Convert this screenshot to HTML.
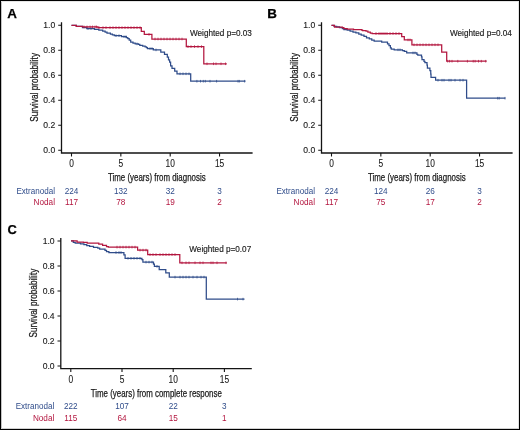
<!DOCTYPE html><html><head><meta charset="utf-8"><style>html,body{margin:0;padding:0;background:#fff;}svg{display:block;will-change:transform;}text{font-family:"Liberation Sans",sans-serif;}</style></head><body>
<svg width="520" height="430" viewBox="0 0 520 430">
<rect x="0" y="0" width="520" height="430" fill="#fff"/>
<text x="7.3" y="17.7" font-weight="bold" font-size="13.4" fill="#000" stroke="#000" stroke-width="0.25">A</text>
<path d="M61.5,22.3V153H252.6" fill="none" stroke="#141414" stroke-width="1.3"/>
<path d="M58.2,150.3H61.5M58.2,125.3H61.5M58.2,100.3H61.5M58.2,75.3H61.5M58.2,50.3H61.5M58.2,25.3H61.5M71.5,153V156.4M120.85,153V156.4M170.2,153V156.4M219.55,153V156.4" fill="none" stroke="#141414" stroke-width="1.1"/>
<text x="55.3" y="152.8" text-anchor="end" font-size="8.6" fill="#1a1a1a" stroke="#1a1a1a" stroke-width="0.12">0.0</text>
<text x="55.3" y="127.8" text-anchor="end" font-size="8.6" fill="#1a1a1a" stroke="#1a1a1a" stroke-width="0.12">0.2</text>
<text x="55.3" y="102.8" text-anchor="end" font-size="8.6" fill="#1a1a1a" stroke="#1a1a1a" stroke-width="0.12">0.4</text>
<text x="55.3" y="77.8" text-anchor="end" font-size="8.6" fill="#1a1a1a" stroke="#1a1a1a" stroke-width="0.12">0.6</text>
<text x="55.3" y="52.8" text-anchor="end" font-size="8.6" fill="#1a1a1a" stroke="#1a1a1a" stroke-width="0.12">0.8</text>
<text x="55.3" y="27.8" text-anchor="end" font-size="8.6" fill="#1a1a1a" stroke="#1a1a1a" stroke-width="0.12">1.0</text>
<text transform="translate(71.5,166.9) scale(0.84,1)" text-anchor="middle" font-size="10" fill="#1a1a1a" stroke="#1a1a1a" stroke-width="0.1">0</text>
<text transform="translate(120.85,166.9) scale(0.84,1)" text-anchor="middle" font-size="10" fill="#1a1a1a" stroke="#1a1a1a" stroke-width="0.1">5</text>
<text transform="translate(170.2,166.9) scale(0.84,1)" text-anchor="middle" font-size="10" fill="#1a1a1a" stroke="#1a1a1a" stroke-width="0.1">10</text>
<text transform="translate(219.55,166.9) scale(0.84,1)" text-anchor="middle" font-size="10" fill="#1a1a1a" stroke="#1a1a1a" stroke-width="0.1">15</text>
<text x="108" y="180.9" font-size="10.3" textLength="97.6" lengthAdjust="spacingAndGlyphs" fill="#1a1a1a" stroke="#1a1a1a" stroke-width="0.25">Time (years) from diagnosis</text>
<text transform="translate(37.6,121.8) rotate(-90)" x="0" y="0" font-size="10.3" textLength="68.8" lengthAdjust="spacingAndGlyphs" fill="#1a1a1a" stroke="#1a1a1a" stroke-width="0.25">Survival probability</text>
<text x="190" y="35.8" font-size="8.5" textLength="61.9" lengthAdjust="spacingAndGlyphs" fill="#1a1a1a" stroke="#1a1a1a" stroke-width="0.15">Weighted p=0.03</text>
<text x="55" y="193.5" text-anchor="end" font-size="8.2" textLength="38.6" lengthAdjust="spacingAndGlyphs" fill="#2f4c8a">Extranodal</text>
<text x="55" y="205" text-anchor="end" font-size="8.2" fill="#b3163f">Nodal</text>
<text x="71.5" y="193.5" text-anchor="middle" font-size="8.2" fill="#2f4c8a">224</text>
<text x="120.85" y="193.5" text-anchor="middle" font-size="8.2" fill="#2f4c8a">132</text>
<text x="170.2" y="193.5" text-anchor="middle" font-size="8.2" fill="#2f4c8a">32</text>
<text x="219.55" y="193.5" text-anchor="middle" font-size="8.2" fill="#2f4c8a">3</text>
<text x="71.5" y="205" text-anchor="middle" font-size="8.2" fill="#b3163f">117</text>
<text x="120.85" y="205" text-anchor="middle" font-size="8.2" fill="#b3163f">78</text>
<text x="170.2" y="205" text-anchor="middle" font-size="8.2" fill="#b3163f">19</text>
<text x="219.55" y="205" text-anchor="middle" font-size="8.2" fill="#b3163f">2</text>
<path d="M71.5,25.3H76.3V26.4H82.5V27.7H86.8V28.5H94.5V29.4H98.8V30.1H102.7V31H105.1V32H107V33H110.4V34H112.4V34.9H114.3V35.7H121.5V36.7H126.3V37.5H127.8V38.6H129.2V40H130.7V42.2H133V43.2H135.2V43.9H138.4V44.3H139.8V45.3H142.7V46.1H145.1V46.75H146.5V47.7H147.5V48.5H153.3V49.9H160.8V52H164.5V54.3H167.3V57H168.5V59.9H169.6V62.2H170.6V65.9H172V68.3H174.7V71H177V73.8H190.7V81.2H245.5" fill="none" stroke="#2f4c8a" stroke-width="1.25" stroke-linejoin="miter"/>
<path d="M88,27.2v2.6M91,27.2v2.6M116,34.4v2.6M119,34.4v2.6M124,35.4v2.6M126,35.4v2.6M137,42.6v2.6M150,47.2v2.6M152,47.2v2.6M156,48.6v2.6M180,72.5v2.6M183,72.5v2.6M186,72.5v2.6M189,72.5v2.6M196.9,79.9v2.6M200.5,79.9v2.6M203.3,79.9v2.6M205.3,79.9v2.6M210,79.9v2.6M216.6,79.9v2.6M238,79.9v2.6M239.3,79.9v2.6M244.6,79.9v2.6" fill="none" stroke="#2f4c8a" stroke-width="0.75"/>
<path d="M71.5,25.3H76.3V26.4H82.5V26.9H97.9V27.6H141.3V31.3H144.3V34.4H151.9V39H186.3V46.6H203.8V63.8H226.8" fill="none" stroke="#b3163f" stroke-width="1.25" stroke-linejoin="miter"/>
<path d="M84,25.6v2.6M87,25.6v2.6M90,25.6v2.6M92.5,25.6v2.6M95,25.6v2.6M96.5,25.6v2.6M99,26.3v2.6M103,26.3v2.6M106,26.3v2.6M110,26.3v2.6M113,26.3v2.6M116,26.3v2.6M119,26.3v2.6M122,26.3v2.6M125,26.3v2.6M128,26.3v2.6M131,26.3v2.6M134,26.3v2.6M137,26.3v2.6M140,26.3v2.6M149,33.1v2.6M155,37.7v2.6M158,37.7v2.6M161,37.7v2.6M164,37.7v2.6M167,37.7v2.6M170,37.7v2.6M173,37.7v2.6M176,37.7v2.6M179,37.7v2.6M182,37.7v2.6M188,45.3v2.6M191,45.3v2.6M194.5,45.3v2.6M198,45.3v2.6M201.5,45.3v2.6M207,62.5v2.6M213.5,62.5v2.6M216,62.5v2.6M221,62.5v2.6M225.5,62.5v2.6" fill="none" stroke="#b3163f" stroke-width="0.75"/>
<text x="267.3" y="17.7" font-weight="bold" font-size="13.4" fill="#000" stroke="#000" stroke-width="0.25">B</text>
<path d="M321.5,22.3V153H512.6" fill="none" stroke="#141414" stroke-width="1.3"/>
<path d="M318.2,150.3H321.5M318.2,125.3H321.5M318.2,100.3H321.5M318.2,75.3H321.5M318.2,50.3H321.5M318.2,25.3H321.5M331.5,153V156.4M380.85,153V156.4M430.2,153V156.4M479.55,153V156.4" fill="none" stroke="#141414" stroke-width="1.1"/>
<text x="315.3" y="152.8" text-anchor="end" font-size="8.6" fill="#1a1a1a" stroke="#1a1a1a" stroke-width="0.12">0.0</text>
<text x="315.3" y="127.8" text-anchor="end" font-size="8.6" fill="#1a1a1a" stroke="#1a1a1a" stroke-width="0.12">0.2</text>
<text x="315.3" y="102.8" text-anchor="end" font-size="8.6" fill="#1a1a1a" stroke="#1a1a1a" stroke-width="0.12">0.4</text>
<text x="315.3" y="77.8" text-anchor="end" font-size="8.6" fill="#1a1a1a" stroke="#1a1a1a" stroke-width="0.12">0.6</text>
<text x="315.3" y="52.8" text-anchor="end" font-size="8.6" fill="#1a1a1a" stroke="#1a1a1a" stroke-width="0.12">0.8</text>
<text x="315.3" y="27.8" text-anchor="end" font-size="8.6" fill="#1a1a1a" stroke="#1a1a1a" stroke-width="0.12">1.0</text>
<text transform="translate(331.5,166.9) scale(0.84,1)" text-anchor="middle" font-size="10" fill="#1a1a1a" stroke="#1a1a1a" stroke-width="0.1">0</text>
<text transform="translate(380.85,166.9) scale(0.84,1)" text-anchor="middle" font-size="10" fill="#1a1a1a" stroke="#1a1a1a" stroke-width="0.1">5</text>
<text transform="translate(430.2,166.9) scale(0.84,1)" text-anchor="middle" font-size="10" fill="#1a1a1a" stroke="#1a1a1a" stroke-width="0.1">10</text>
<text transform="translate(479.55,166.9) scale(0.84,1)" text-anchor="middle" font-size="10" fill="#1a1a1a" stroke="#1a1a1a" stroke-width="0.1">15</text>
<text x="368" y="180.9" font-size="10.3" textLength="97.6" lengthAdjust="spacingAndGlyphs" fill="#1a1a1a" stroke="#1a1a1a" stroke-width="0.25">Time (years) from diagnosis</text>
<text transform="translate(297.6,121.8) rotate(-90)" x="0" y="0" font-size="10.3" textLength="68.8" lengthAdjust="spacingAndGlyphs" fill="#1a1a1a" stroke="#1a1a1a" stroke-width="0.25">Survival probability</text>
<text x="450" y="35.8" font-size="8.5" textLength="61.9" lengthAdjust="spacingAndGlyphs" fill="#1a1a1a" stroke="#1a1a1a" stroke-width="0.15">Weighted p=0.04</text>
<text x="315" y="193.5" text-anchor="end" font-size="8.2" textLength="38.6" lengthAdjust="spacingAndGlyphs" fill="#2f4c8a">Extranodal</text>
<text x="315" y="205" text-anchor="end" font-size="8.2" fill="#b3163f">Nodal</text>
<text x="331.5" y="193.5" text-anchor="middle" font-size="8.2" fill="#2f4c8a">224</text>
<text x="380.85" y="193.5" text-anchor="middle" font-size="8.2" fill="#2f4c8a">124</text>
<text x="430.2" y="193.5" text-anchor="middle" font-size="8.2" fill="#2f4c8a">26</text>
<text x="479.55" y="193.5" text-anchor="middle" font-size="8.2" fill="#2f4c8a">3</text>
<text x="331.5" y="205" text-anchor="middle" font-size="8.2" fill="#b3163f">117</text>
<text x="380.85" y="205" text-anchor="middle" font-size="8.2" fill="#b3163f">75</text>
<text x="430.2" y="205" text-anchor="middle" font-size="8.2" fill="#b3163f">17</text>
<text x="479.55" y="205" text-anchor="middle" font-size="8.2" fill="#b3163f">2</text>
<path d="M331.5,25.3H334V26.25H336.7V26.9H339.5V27.7H342.4V28.5H343.9V29.6H347.2V30.1H350.1V31.1H353V32H355.9V32.8H358.8V34.2H361.2V35.2H364V36.3H366.5V37.8H369.3V38.75H371.75V40H374.15V41H381.7V42.1H387.5V43.75H389V45.7H390.4V47.9H391.3V49H394.2V49.8H402.4V50.5H404.3V51.4H406.7V52.9H416.9V54.3H417.8V55.1H421.5V56.8H422V59.7H424V61.4H424.9V62.7H427V65.2H427.4V68.1H429.9V70.6H430.75V74H431V77.3H435.6V80.2H466.6V98.2H505.3" fill="none" stroke="#2f4c8a" stroke-width="1.25" stroke-linejoin="miter"/>
<path d="M398,48.5v2.6M400,48.5v2.6M413,51.6v2.6M415,51.6v2.6M438,78.9v2.6M442,78.9v2.6M444,78.9v2.6M449,78.9v2.6M451,78.9v2.6M455,78.9v2.6M460,78.9v2.6M463,78.9v2.6M497.7,96.9v2.6M499.2,96.9v2.6M505,96.9v2.6" fill="none" stroke="#2f4c8a" stroke-width="0.75"/>
<path d="M331.5,25.3H334.5V27.2H342.4V27.7H343.9V28.7H347.2V29.1H353.5V29.6H361.7V30.1H362.6V30.6H366V31.1H367.9V32H370.3V33H372.2V33.5H401.7V36.5H404.3V39.9H411.9V44.8H441.7V52.1H446.7V61.2H486.7" fill="none" stroke="#b3163f" stroke-width="1.25" stroke-linejoin="miter"/>
<path d="M376,32.2v2.6M379,32.2v2.6M381,32.2v2.6M383,32.2v2.6M385,32.2v2.6M387,32.2v2.6M390,32.2v2.6M393,32.2v2.6M396,32.2v2.6M399,32.2v2.6M408,38.6v2.6M410,38.6v2.6M414,43.5v2.6M417,43.5v2.6M420,43.5v2.6M423,43.5v2.6M426,43.5v2.6M429,43.5v2.6M432,43.5v2.6M435,43.5v2.6M438,43.5v2.6M447.7,59.9v2.6M449.6,59.9v2.6M452,59.9v2.6M457.8,59.9v2.6M467.4,59.9v2.6M473.2,59.9v2.6M475.1,59.9v2.6M478.5,59.9v2.6M481.3,59.9v2.6M485.7,59.9v2.6" fill="none" stroke="#b3163f" stroke-width="0.75"/>
<text x="7.5" y="233.6" font-weight="bold" font-size="12.9" fill="#000" stroke="#000" stroke-width="0.25">C</text>
<path d="M60.8,238V368.7H251.8" fill="none" stroke="#141414" stroke-width="1.3"/>
<path d="M57.5,366H60.8M57.5,341H60.8M57.5,316H60.8M57.5,291H60.8M57.5,266H60.8M57.5,241H60.8M70.8,368.7V372.1M122,368.7V372.1M173.2,368.7V372.1M224.4,368.7V372.1" fill="none" stroke="#141414" stroke-width="1.1"/>
<text x="54.6" y="368.5" text-anchor="end" font-size="8.6" fill="#1a1a1a" stroke="#1a1a1a" stroke-width="0.12">0.0</text>
<text x="54.6" y="343.5" text-anchor="end" font-size="8.6" fill="#1a1a1a" stroke="#1a1a1a" stroke-width="0.12">0.2</text>
<text x="54.6" y="318.5" text-anchor="end" font-size="8.6" fill="#1a1a1a" stroke="#1a1a1a" stroke-width="0.12">0.4</text>
<text x="54.6" y="293.5" text-anchor="end" font-size="8.6" fill="#1a1a1a" stroke="#1a1a1a" stroke-width="0.12">0.6</text>
<text x="54.6" y="268.5" text-anchor="end" font-size="8.6" fill="#1a1a1a" stroke="#1a1a1a" stroke-width="0.12">0.8</text>
<text x="54.6" y="243.5" text-anchor="end" font-size="8.6" fill="#1a1a1a" stroke="#1a1a1a" stroke-width="0.12">1.0</text>
<text transform="translate(70.8,382.6) scale(0.84,1)" text-anchor="middle" font-size="10" fill="#1a1a1a" stroke="#1a1a1a" stroke-width="0.1">0</text>
<text transform="translate(122,382.6) scale(0.84,1)" text-anchor="middle" font-size="10" fill="#1a1a1a" stroke="#1a1a1a" stroke-width="0.1">5</text>
<text transform="translate(173.2,382.6) scale(0.84,1)" text-anchor="middle" font-size="10" fill="#1a1a1a" stroke="#1a1a1a" stroke-width="0.1">10</text>
<text transform="translate(224.4,382.6) scale(0.84,1)" text-anchor="middle" font-size="10" fill="#1a1a1a" stroke="#1a1a1a" stroke-width="0.1">15</text>
<text x="90.7" y="396.6" font-size="10.3" textLength="131.1" lengthAdjust="spacingAndGlyphs" fill="#1a1a1a" stroke="#1a1a1a" stroke-width="0.25">Time (years) from complete response</text>
<text transform="translate(36.9,337.5) rotate(-90)" x="0" y="0" font-size="10.3" textLength="68.8" lengthAdjust="spacingAndGlyphs" fill="#1a1a1a" stroke="#1a1a1a" stroke-width="0.25">Survival probability</text>
<text x="189.3" y="251.5" font-size="8.5" textLength="61.9" lengthAdjust="spacingAndGlyphs" fill="#1a1a1a" stroke="#1a1a1a" stroke-width="0.15">Weighted p=0.07</text>
<text x="54.3" y="409.2" text-anchor="end" font-size="8.2" textLength="38.6" lengthAdjust="spacingAndGlyphs" fill="#2f4c8a">Extranodal</text>
<text x="54.3" y="420.7" text-anchor="end" font-size="8.2" fill="#b3163f">Nodal</text>
<text x="70.8" y="409.2" text-anchor="middle" font-size="8.2" fill="#2f4c8a">222</text>
<text x="122" y="409.2" text-anchor="middle" font-size="8.2" fill="#2f4c8a">107</text>
<text x="173.2" y="409.2" text-anchor="middle" font-size="8.2" fill="#2f4c8a">22</text>
<text x="224.4" y="409.2" text-anchor="middle" font-size="8.2" fill="#2f4c8a">3</text>
<text x="70.8" y="420.7" text-anchor="middle" font-size="8.2" fill="#b3163f">115</text>
<text x="122" y="420.7" text-anchor="middle" font-size="8.2" fill="#b3163f">64</text>
<text x="173.2" y="420.7" text-anchor="middle" font-size="8.2" fill="#b3163f">15</text>
<text x="224.4" y="420.7" text-anchor="middle" font-size="8.2" fill="#b3163f">1</text>
<path d="M71,240.8H73.3V242.25H75.2V243.2H80.5V243.9H83.9V244.65H86.75V245.6H89.6V246.4H93.5V247.3H97.8V248H99.7V249H105V250.4H106.5V251.6H108.9V252.5H123.9V254.9H125.1V258.3H141.9V259.7H142.9V262.1H153.5V264H154.4V266.4H159.2V269.6H165.8V272.9H169.3V277.1H206.3V299.1H244.5" fill="none" stroke="#2f4c8a" stroke-width="1.25" stroke-linejoin="miter"/>
<path d="M116,251.2v2.6M119,251.2v2.6M121,251.2v2.6M128,257v2.6M131,257v2.6M134,257v2.6M137,257v2.6M140,257v2.6M146,260.8v2.6M149,260.8v2.6M152,260.8v2.6M157,265.1v2.6M175,275.8v2.6M180,275.8v2.6M183,275.8v2.6M186,275.8v2.6M189,275.8v2.6M193,275.8v2.6M197,275.8v2.6M201,275.8v2.6M204,275.8v2.6M237.5,297.8v2.6M243,297.8v2.6" fill="none" stroke="#2f4c8a" stroke-width="0.75"/>
<path d="M71,240.8H77.1V242H83.4V242.4H87.2V243.2H98.8V244.2H102.6V245.3H106.5V246.6H108.4V247.1H137.6V250.1H147.7V254.6H179.8V262.8H226.8" fill="none" stroke="#b3163f" stroke-width="1.25" stroke-linejoin="miter"/>
<path d="M117,245.8v2.6M120,245.8v2.6M123,245.8v2.6M126,245.8v2.6M129,245.8v2.6M132,245.8v2.6M135,245.8v2.6M140,248.8v2.6M143,248.8v2.6M146,248.8v2.6M150,253.3v2.6M153,253.3v2.6M156,253.3v2.6M160,253.3v2.6M163,253.3v2.6M166,253.3v2.6M169,253.3v2.6M172,253.3v2.6M175,253.3v2.6M182,261.5v2.6M186,261.5v2.6M189,261.5v2.6M195,261.5v2.6M200,261.5v2.6M203,261.5v2.6M211,261.5v2.6M213,261.5v2.6M217,261.5v2.6M226,261.5v2.6" fill="none" stroke="#b3163f" stroke-width="0.75"/>
<rect x="1" y="1" width="1" height="428" fill="#c4c4c4"/>
<rect x="1" y="1" width="518" height="1" fill="#e6e6e6"/>
<rect x="518" y="1" width="1" height="428" fill="#e2e2e2"/>
<rect x="1" y="428" width="518" height="1" fill="#d2d2d2"/>
<rect x="0.5" y="0.5" width="519" height="429" fill="none" stroke="#000" stroke-width="1"/>
</svg></body></html>
